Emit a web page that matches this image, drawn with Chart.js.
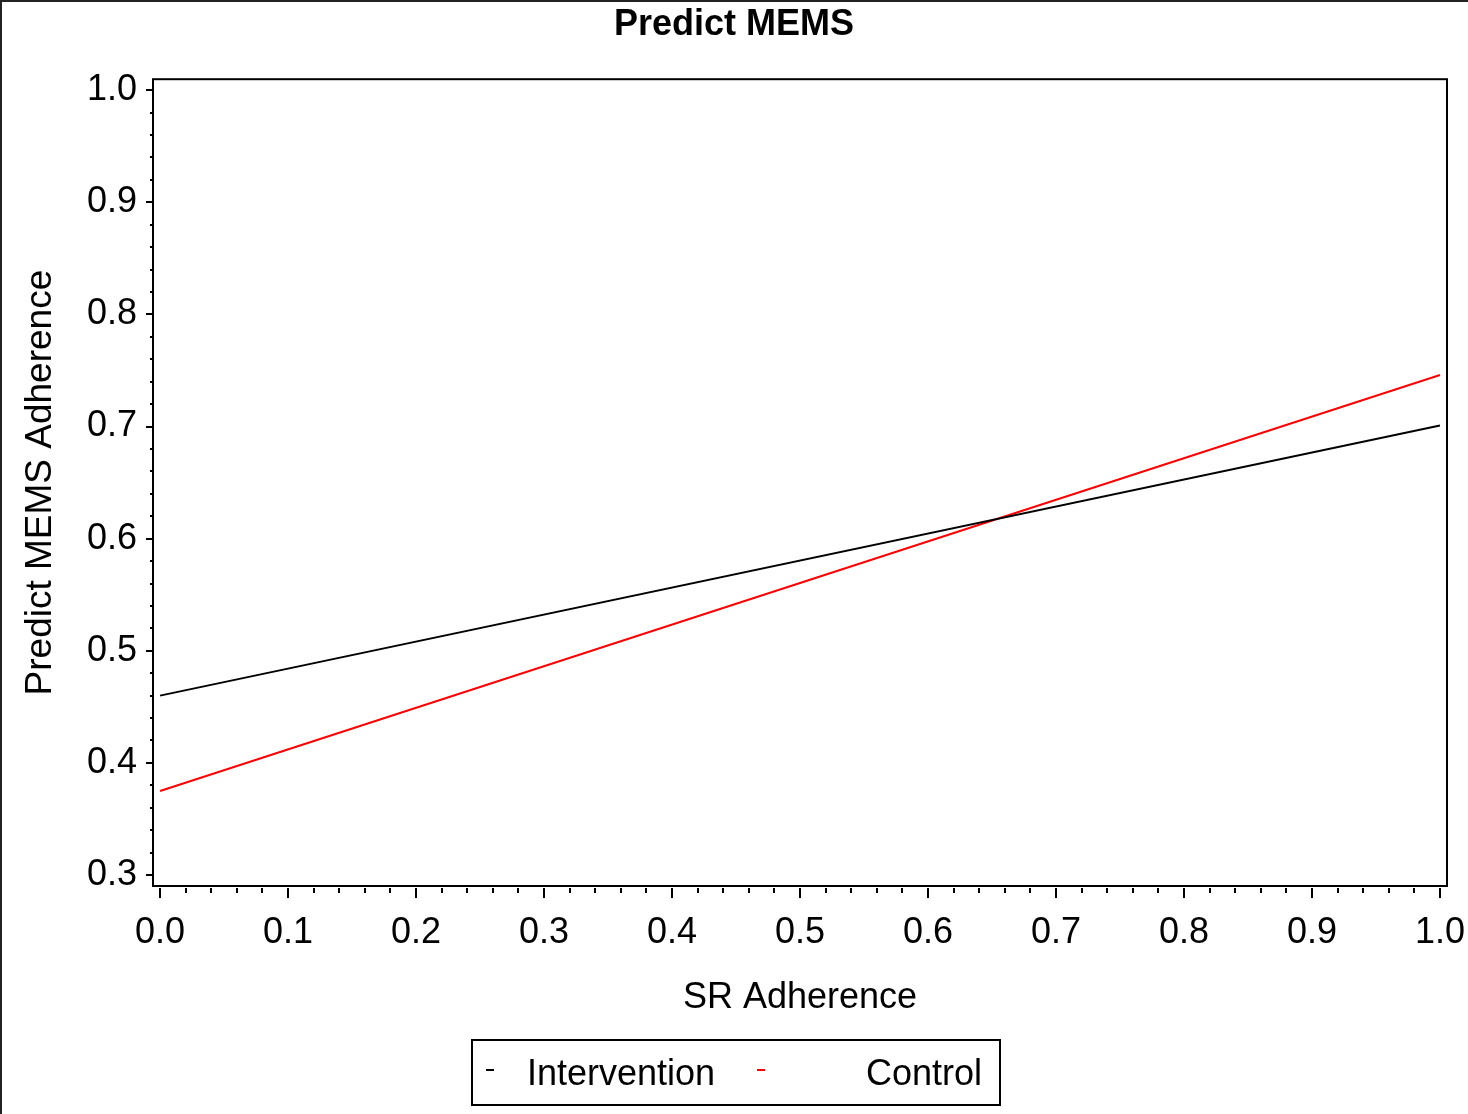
<!DOCTYPE html>
<html>
<head>
<meta charset="utf-8">
<script src="https://cdn.jsdelivr.net/npm/chart.js@4/dist/chart.umd.min.js"></script>
<style>
  body { margin: 0; background: #fff; }
  #wrap { position: relative; width: 1468px; height: 1114px; overflow: hidden; font-family: "Liberation Sans", Arial, sans-serif; }
  #edgeTop { position: absolute; left: 0; top: 0; width: 1468px; height: 2px; background: #222; }
  #edgeLeft { position: absolute; left: 0; top: 0; width: 2px; height: 1114px; background: #222; }
  #legend { position: absolute; left: 471px; top: 1039px; width: 526px; height: 63px; border: 2px solid #000; }
  #legend span { position: absolute; font-size: 36px; line-height: 36px; top: 14px; color: #000; }
  #legend i { position: absolute; top: 28px; width: 8px; height: 2px; }
</style>
</head>
<body>
<div id="wrap">
  <canvas id="chart1" width="1468" height="1114"></canvas>
  <div id="edgeTop"></div>
  <div id="edgeLeft"></div>
  <div id="legend">
    <i style="left:13px;background:#000"></i><span style="left:54px">Intervention</span>
    <i style="left:284px;background:#f00"></i><span style="left:393px">Control</span>
  </div>
</div>
<script>
// values
var srAdherence = [0.0, 1.0];
var intervention = [0.460, 0.701];
var control = [0.375, 0.746];
var xTickValues = [0.0, 0.1, 0.2, 0.3, 0.4, 0.5, 0.6, 0.7, 0.8, 0.9, 1.0];
var yTickValues = [0.3, 0.4, 0.5, 0.6, 0.7, 0.8, 0.9, 1.0];

var FONT = "'Liberation Sans', Arial, sans-serif";

function toPoints(ys){
  var pts = [];
  for (var i = 0; i < ys.length; i++){
    pts.push({x: srAdherence[i], y: ys[i]});
  }
  return pts;
}

// frame + major/minor ticks, drawn off the scales
var framePlugin = {
  id: 'frame',
  afterDraw: function(chart){
    var ctx = chart.ctx;
    var a = chart.chartArea;
    var xs = chart.scales.x, ys = chart.scales.y;
    ctx.save();
    ctx.strokeStyle = '#000';
    ctx.lineWidth = 2;
    ctx.strokeRect(a.left, a.top, a.right - a.left, a.bottom - a.top);
    ctx.beginPath();
    var v, px, major;
    for (var i = 0; i <= 50; i++){
      v = i * 0.02;
      major = (i % 5 == 0);
      px = Math.round(xs.getPixelForValue(v));
      ctx.moveTo(px, a.bottom + 2);
      ctx.lineTo(px, a.bottom + (major ? 12 : 7));
    }
    for (var j = 0; j <= 35; j++){
      v = 0.3 + j * 0.02;
      major = (j % 5 == 0);
      px = Math.round(ys.getPixelForValue(v));
      ctx.moveTo(a.left, px);
      ctx.lineTo(a.left - (major ? 7 : 3), px);
    }
    ctx.stroke();
    ctx.restore();
  }
};

var chart1 = new Chart(document.getElementById("chart1"), {
  type: 'line',
  data: {
    datasets: [{
      label: 'Intervention',
      data: toPoints(intervention),
      borderColor: '#000',
      borderWidth: 2,
      pointRadius: 0,
      tension: 0
    }, {
      label: 'Control',
      data: toPoints(control),
      borderColor: '#ff0000',
      borderWidth: 2,
      pointRadius: 0,
      tension: 0
    }]
  },
  options: {
    responsive: false,
    animation: false,
    devicePixelRatio: 1,
    layout: { padding: { left: 0, right: 0, top: 0, bottom: 93 } },
    plugins: {
      legend: { display: false },
      tooltip: { enabled: false },
      title: {
        display: true,
        text: 'Predict MEMS',
        color: '#000',
        font: { family: FONT, size: 36, weight: 'bold' },
        padding: { top: 3, bottom: 33 }
      }
    },
    scales: {
      x: {
        type: 'linear',
        min: -0.0055,
        max: 1.0055,
        grid: { display: false, drawTicks: false },
        border: { display: false },
        afterBuildTicks: function(scale){
          scale.ticks = xTickValues.map(function(v){ return {value: v}; });
        },
        afterFit: function(scale){
          scale.height = 135;
          scale.paddingLeft = 0;
          scale.paddingRight = 0;
        },
        ticks: {
          color: '#000',
          padding: 25,
          maxRotation: 0,
          autoSkip: false,
          font: { family: FONT, size: 36 },
          callback: function(v){ return v.toFixed(1); }
        },
        title: {
          display: true,
          text: 'SR Adherence',
          color: '#000',
          font: { family: FONT, size: 36 },
          padding: { top: 0, bottom: 1 }
        }
      },
      y: {
        type: 'linear',
        min: 0.2902,
        max: 1.0098,
        grid: { display: false, drawTicks: false },
        border: { display: false },
        afterBuildTicks: function(scale){
          scale.ticks = yTickValues.map(function(v){ return {value: v}; });
        },
        afterFit: function(scale){
          scale.width = 153;
          scale.paddingTop = 0;
          scale.paddingBottom = 0;
        },
        ticks: {
          color: '#000',
          padding: 16,
          autoSkip: false,
          font: { family: FONT, size: 36 },
          callback: function(v){ return v.toFixed(1); }
        },
        title: {
          display: true,
          text: 'Predict MEMS Adherence',
          color: '#000',
          font: { family: FONT, size: 37 },
          padding: { top: 19, bottom: 0 }
        }
      },
      // empty right axis, only keeps 21px of room right of the frame
      yRight: {
        type: 'linear',
        position: 'right',
        min: 0.2902,
        max: 1.0098,
        grid: { display: false, drawTicks: false },
        border: { display: false },
        ticks: { display: false },
        afterFit: function(scale){
          scale.width = 21;
          scale.paddingTop = 0;
          scale.paddingBottom = 0;
        }
      }
    }
  },
  plugins: [framePlugin]
});
</script>
</body>
</html>
